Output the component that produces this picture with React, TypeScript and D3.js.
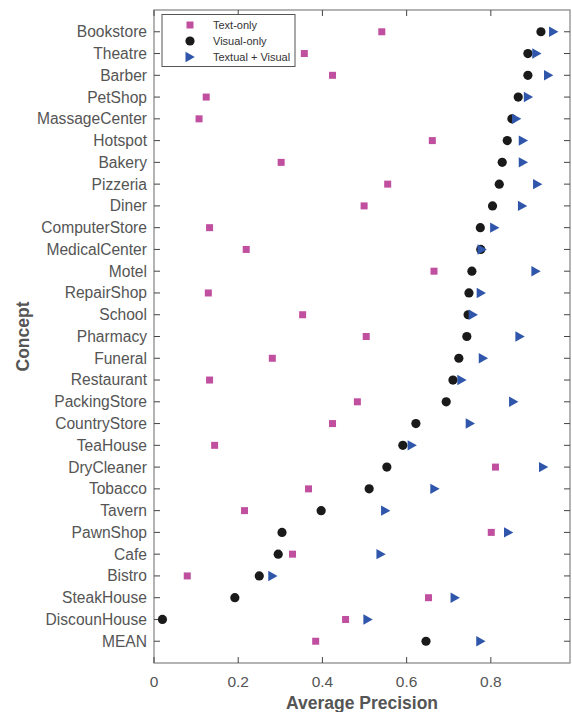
import { useEffect, useRef } from 'react'
import * as d3 from 'd3'

// ─── Data ─────────────────────────────────────────────────────────────────────

const concepts = [
  'Bookstore', 'Theatre', 'Barber', 'PetShop', 'MassageCenter', 'Hotspot', 'Bakery',
  'Pizzeria', 'Diner', 'ComputerStore', 'MedicalCenter', 'Motel', 'RepairShop', 'School',
  'Pharmacy', 'Funeral', 'Restaurant', 'PackingStore', 'CountryStore', 'TeaHouse',
  'DryCleaner', 'Tobacco', 'Tavern', 'PawnShop', 'Cafe', 'Bistro', 'SteakHouse',
  'DiscounHouse', 'MEAN',
]

const textOnly = [
  0.541, 0.357, 0.424, 0.124, 0.107, 0.661, 0.302, 0.555, 0.499, 0.132, 0.219, 0.665,
  0.129, 0.353, 0.504, 0.281, 0.132, 0.483, 0.424, 0.144, 0.811, 0.367, 0.215, 0.801,
  0.329, 0.079, 0.652, 0.455, 0.384,
]

const visualOnly = [
  0.919, 0.888, 0.888, 0.865, 0.850, 0.839, 0.827, 0.820, 0.804, 0.775, 0.776, 0.755,
  0.748, 0.746, 0.743, 0.724, 0.710, 0.694, 0.622, 0.591, 0.553, 0.511, 0.397, 0.304,
  0.295, 0.250, 0.192, 0.020, 0.646,
]

const textualVisual = [
  0.949, 0.909, 0.937, 0.889, 0.861, 0.877, 0.877, 0.911, 0.875, 0.809, 0.779, 0.907,
  0.777, 0.758, 0.869, 0.782, 0.731, 0.854, 0.751, 0.613, 0.925, 0.667, 0.550, 0.842,
  0.539, 0.282, 0.715, 0.508, 0.776,
]

const xTicks = [0, 0.2, 0.4, 0.6, 0.8]
const legendLabels = ['Text-only', 'Visual-only', 'Textual + Visual']

// ─── Constants ────────────────────────────────────────────────────────────────

const W = 572
const H = 712
const BOX = { left: 154, right: 570, top: 10, bottom: 663 }
const FONT = '"Liberation Sans", Arial, Helvetica, sans-serif'
const C_TEXT = '#c04fa0'
const C_VIS = '#1a1a1a'
const C_BOTH = '#2f56aa'
const C_LABEL = '#555555'

export default function App() {
  const svgRef = useRef<SVGSVGElement>(null)

  useEffect(() => {
    if (!svgRef.current) return
    const svg = d3.select(svgRef.current)
    svg.selectAll('*').remove()

    const x = d3.scaleLinear().domain([0, 0.988]).range([BOX.left, BOX.right])
    const y = d3.scalePoint<string>().domain(concepts).range([BOX.top, BOX.bottom]).padding(1)

    const tickLen = 6

    // Frame
    svg.append('rect')
      .attr('x', BOX.left).attr('y', BOX.top)
      .attr('width', BOX.right - BOX.left).attr('height', BOX.bottom - BOX.top)
      .attr('fill', 'none').attr('stroke', '#8c8c8c').attr('stroke-width', 1.3)

    // Y ticks (left + right, inward)
    const yt = svg.append('g').attr('stroke', '#444').attr('stroke-width', 1)
    concepts.forEach((c) => {
      const yy = y(c)!
      yt.append('line').attr('x1', BOX.left).attr('x2', BOX.left + tickLen).attr('y1', yy).attr('y2', yy)
      yt.append('line').attr('x1', BOX.right).attr('x2', BOX.right - tickLen).attr('y1', yy).attr('y2', yy)
    })

    // X ticks (top + bottom, inward)
    xTicks.forEach((t) => {
      const xx = x(t)
      yt.append('line').attr('x1', xx).attr('x2', xx).attr('y1', BOX.bottom).attr('y2', BOX.bottom - tickLen)
      yt.append('line').attr('x1', xx).attr('x2', xx).attr('y1', BOX.top).attr('y2', BOX.top + tickLen)
    })

    // Y tick labels
    svg.append('g')
      .selectAll('text').data(concepts).join('text')
      .attr('x', BOX.left - 7).attr('y', (d) => y(d)!)
      .attr('dy', '0.35em').attr('text-anchor', 'end')
      .attr('font-family', FONT).attr('font-size', 15.6).attr('fill', C_LABEL)
      .text((d) => d)

    // X tick labels
    svg.append('g')
      .selectAll('text').data(xTicks).join('text')
      .attr('x', (d) => x(d)).attr('y', BOX.bottom + 19)
      .attr('dy', '0.35em').attr('text-anchor', 'middle')
      .attr('font-family', FONT).attr('font-size', 15.5).attr('fill', C_LABEL)
      .text((d) => (d === 0 ? '0' : d3.format('.1f')(d)))

    // Axis titles
    svg.append('text')
      .attr('x', (BOX.left + BOX.right) / 2).attr('y', 703)
      .attr('dy', '0.35em').attr('text-anchor', 'middle')
      .attr('font-family', FONT).attr('font-size', 17.5).attr('font-weight', 'bold').attr('fill', C_LABEL)
      .text('Average Precision')

    svg.append('text')
      .attr('transform', `translate(23,${(BOX.top + BOX.bottom) / 2}) rotate(-90)`)
      .attr('dy', '0.35em').attr('text-anchor', 'middle')
      .attr('font-family', FONT).attr('font-size', 17.5).attr('font-weight', 'bold').attr('fill', C_LABEL)
      .text('Concept')

    // Marker helpers
    const sq = 7
    const drawSquare = (g: d3.Selection<SVGGElement, unknown, null, undefined>, cx: number, cy: number) =>
      g.append('rect').attr('x', cx - sq / 2).attr('y', cy - sq / 2).attr('width', sq).attr('height', sq).attr('fill', C_TEXT)
    const drawCircle = (g: d3.Selection<SVGGElement, unknown, null, undefined>, cx: number, cy: number) =>
      g.append('circle').attr('cx', cx).attr('cy', cy).attr('r', 4.6).attr('fill', C_VIS)
    const drawTri = (g: d3.Selection<SVGGElement, unknown, null, undefined>, cx: number, cy: number) =>
      g.append('path')
        .attr('d', `M${cx - 4.5},${cy - 5.2}L${cx + 4.8},${cy}L${cx - 4.5},${cy + 5.2}Z`)
        .attr('fill', C_BOTH)

    const marks = svg.append('g')
    concepts.forEach((c, i) => {
      const yy = y(c)!
      drawSquare(marks, x(textOnly[i]), yy)
      drawCircle(marks, x(visualOnly[i]), yy)
      drawTri(marks, x(textualVisual[i]), yy)
    })

    // Legend
    const lg = svg.append('g')
    lg.append('rect')
      .attr('x', 162).attr('y', 14.5).attr('width', 133).attr('height', 52)
      .attr('fill', '#fff').attr('stroke', '#555').attr('stroke-width', 1)
    const rowsY = [25, 41, 57]
    const drawers = [drawSquare, drawCircle, drawTri]
    legendLabels.forEach((lab, i) => {
      drawers[i](lg, 190, rowsY[i])
      lg.append('text')
        .attr('x', 213).attr('y', rowsY[i]).attr('dy', '0.35em')
        .attr('font-family', FONT).attr('font-size', 11).attr('fill', '#333')
        .text(lab)
    })
  }, [])

  return (
    <svg
      ref={svgRef}
      width={W}
      height={H}
      style={{ position: 'absolute', left: 0, top: 0, background: '#fff' }}
    />
  )
}
